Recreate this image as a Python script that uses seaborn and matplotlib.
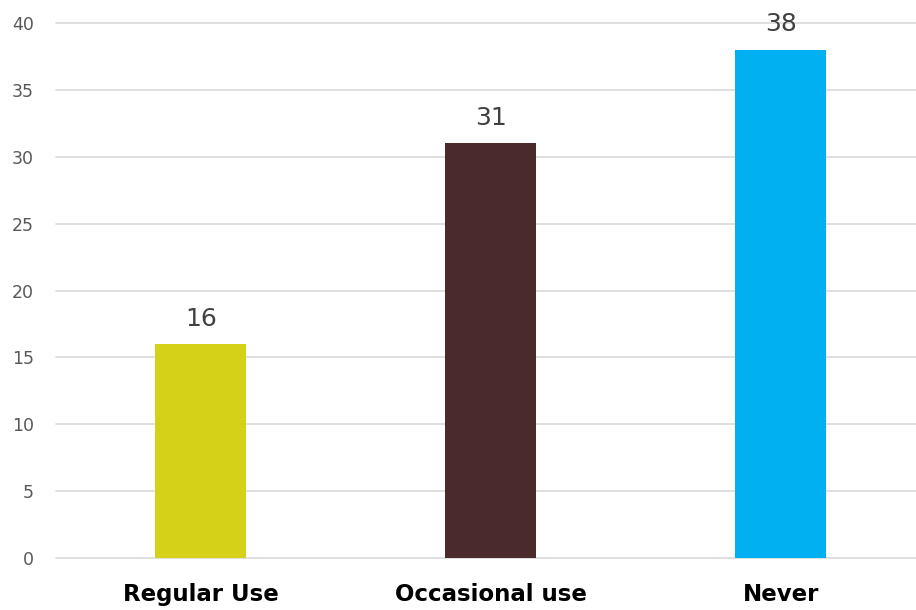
import pandas as pd
import numpy as np
import matplotlib.pyplot as plt
import seaborn as sns

# data
categories = ['Regular Use', 'Occasional use', 'Never']
counts = [16, 31, 38]
bar_colors = ['#D5D018', '#4A2A2B', '#00B0F0']

df = pd.DataFrame({'category': categories, 'count': counts})

sns.set_style('white')
plt.rcParams['font.family'] = ['DejaVu Sans']

fig = plt.figure(figsize=(9.16, 6.10), dpi=100)
ax = fig.add_axes([0.0611, 0.0852, 0.9389, 0.8771])

sns.barplot(data=df, x='category', y='count', hue='category',
            palette=bar_colors, width=0.314, legend=False, ax=ax,
            saturation=1, linewidth=0)

ax.set_ylim(0, 40)
ax.set_xlim(-0.5, 2.466)
ax.set_yticks(np.arange(0, 41, 5))
ax.yaxis.grid(True, color='#D9D9D9', linewidth=1.2)
for gl in ax.yaxis.get_gridlines():
    gl.set_clip_on(False)
ax.set_axisbelow(True)
for s in ax.spines.values():
    s.set_visible(False)
ax.tick_params(axis='both', length=0)
ax.tick_params(axis='y', labelsize=12.5, labelcolor='#595959', pad=16)
ax.tick_params(axis='x', pad=18)
for lbl in ax.get_xticklabels():
    lbl.set_fontsize(16.5)
    lbl.set_fontweight('bold')
    lbl.set_color('black')
ax.set_xlabel('')
ax.set_ylabel('')

# value labels above bars
for i, v in enumerate(counts):
    ax.text(i, v + 1.0, str(v), ha='center', va='bottom', fontsize=18,
            color='#404040')

plt.savefig('out.png', dpi=100)
